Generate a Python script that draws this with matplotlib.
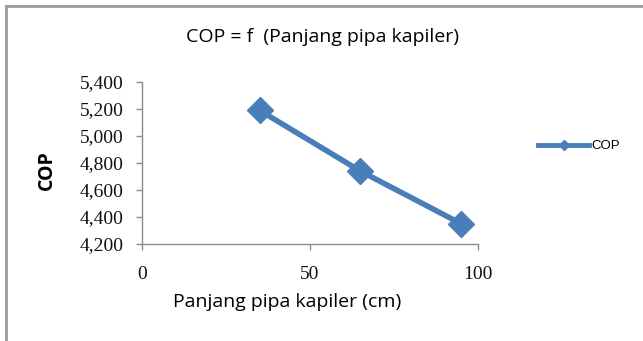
import matplotlib
matplotlib.use("Agg")
import matplotlib.pyplot as plt
from matplotlib.lines import Line2D
from matplotlib.ticker import FuncFormatter

length_cm = [35, 65, 95]
cop = [5190, 4740, 4350]
x_ticks = [0, 50, 100]
y_ticks = [4200, 4400, 4600, 4800, 5000, 5200, 5400]

W, H = 643, 341
fig = plt.figure(figsize=(W / 100, H / 100), dpi=100)
ax = fig.add_axes([142 / W, 1 - 244 / H, (478 - 142) / W, (244 - 82) / H])

blue = "#4a7ebb"
gray = "#8c8c8c"
ax.plot(length_cm, cop, color=blue, lw=4, marker="D", ms=13, mec=blue, mfc=blue,
        solid_capstyle="round", label="COP", clip_on=False)

ax.set_xlim(0, 100)
ax.set_ylim(4200, 5400)
ax.set_xticks(x_ticks)
ax.set_yticks(y_ticks)
ax.yaxis.set_major_formatter(FuncFormatter(lambda v, p: f"{int(v):,}"))
for s in ["top", "right"]:
    ax.spines[s].set_visible(False)
for s in ["left", "bottom"]:
    ax.spines[s].set_color(gray)
    ax.spines[s].set_linewidth(1.0)
ax.tick_params(axis="both", direction="out", color=gray, length=4, width=1)
ax.tick_params(axis="y", pad=9)
ax.tick_params(axis="x", pad=12)
for lab in ax.get_xticklabels() + ax.get_yticklabels():
    lab.set_fontfamily("Liberation Serif")
    lab.set_fontsize(14)
    lab.set_color("#111111")

ax.set_xlabel("Panjang pipa kapiler (cm)", fontfamily="Open Sans", fontsize=14)
ax.xaxis.set_label_coords(287 / W, 1 - 293 / H, transform=fig.transFigure)
ax.set_ylabel("COP", fontfamily="Open Sans", fontsize=14, fontweight="bold")
ax.yaxis.set_label_coords(57 / W, 0.5, transform=fig.transFigure)

fig.text(322 / W, 1 - 37 / H, "COP = f  (Panjang pipa kapiler)", ha="center", va="center",
         fontfamily="Open Sans", fontsize=14)

leg_handle = Line2D([], [], color=blue, lw=3.5, marker="D", ms=5, mec=blue, mfc=blue)
fig.legend([leg_handle], ["COP"], loc="center left", bbox_to_anchor=(538 / W, 1 - 146 / H),
           frameon=False, handlelength=3.9, handletextpad=0.15, borderpad=0, borderaxespad=0,
           prop={"family": "Liberation Sans", "size": 9.5})

# outer frame: left and top lines
fig.add_artist(Line2D([6 / W, 6 / W], [0, 1 - 6 / H], transform=fig.transFigure, color="#999999", lw=2))
fig.add_artist(Line2D([6 / W, 642 / W], [1 - 6 / H, 1 - 6 / H], transform=fig.transFigure, color="#999999", lw=2))

fig.savefig("out.png", dpi=100)
